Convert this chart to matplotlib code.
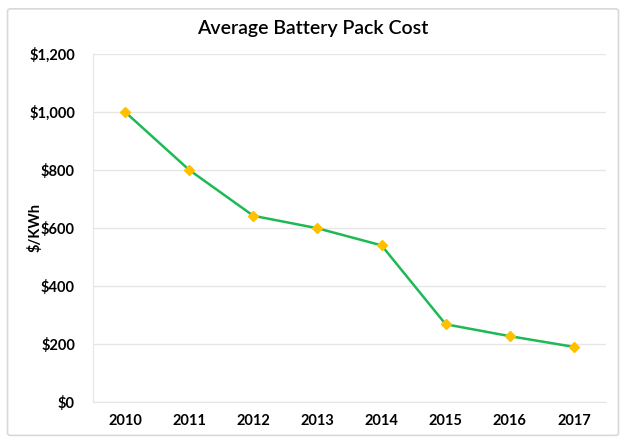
import matplotlib.pyplot as plt
from matplotlib.patches import FancyBboxPatch
from matplotlib.ticker import FuncFormatter

years = ['2010', '2011', '2012', '2013', '2014', '2015', '2016', '2017']
cost = [1000, 800, 642, 599, 540, 268, 227, 190]

plt.rcParams['font.family'] = ['Lato', 'DejaVu Sans']

fig = plt.figure(figsize=(6.26, 4.42), dpi=100)
ax = fig.add_axes([0.1486, 0.0905, 0.8194, 0.7875])

# outer chart frame
frame = FancyBboxPatch((0.012, 0.015), 0.976, 0.965, boxstyle='round,pad=0,rounding_size=0.005',
                       transform=fig.transFigure, facecolor='white', edgecolor='#d9d9d9',
                       linewidth=1.2, zorder=-1)
fig.patches.append(frame)

x = range(len(years))
ax.plot(x, cost, color='#1db954', linewidth=1.8, zorder=3)
ax.plot(x, cost, linestyle='none', marker='D', markersize=5, color='#ffc000', zorder=4)

ax.set_xlim(-0.5, len(years) - 0.5)
ax.set_ylim(0, 1200)
ax.set_yticks(range(0, 1201, 200))
ax.yaxis.set_major_formatter(FuncFormatter(lambda v, p: '${:,.0f}'.format(v)))
ax.set_xticks(list(x))
ax.set_xticklabels(years)

ax.grid(axis='y', color='#e6e6e6', linewidth=1)
ax.set_axisbelow(True)
for s in ['top', 'right']:
    ax.spines[s].set_visible(False)
ax.spines['left'].set_color('#e6e6e6')
ax.spines['bottom'].set_color('#e6e6e6')
ax.tick_params(axis='y', length=0, labelsize=10.5, pad=13)
ax.tick_params(axis='x', length=0, labelsize=10.5, pad=9)
for lbl in ax.get_xticklabels() + ax.get_yticklabels():
    lbl.set_fontweight('bold')

ax.set_ylabel('$/KWh', fontsize=10.5, fontweight='bold')
ax.yaxis.set_label_coords(-0.098, 0.5)
fig.text(0.5, 0.935, 'Average Battery Pack Cost', fontsize=14, fontweight='semibold',
         ha='center', va='center')

fig.savefig('out.png', dpi=100)
